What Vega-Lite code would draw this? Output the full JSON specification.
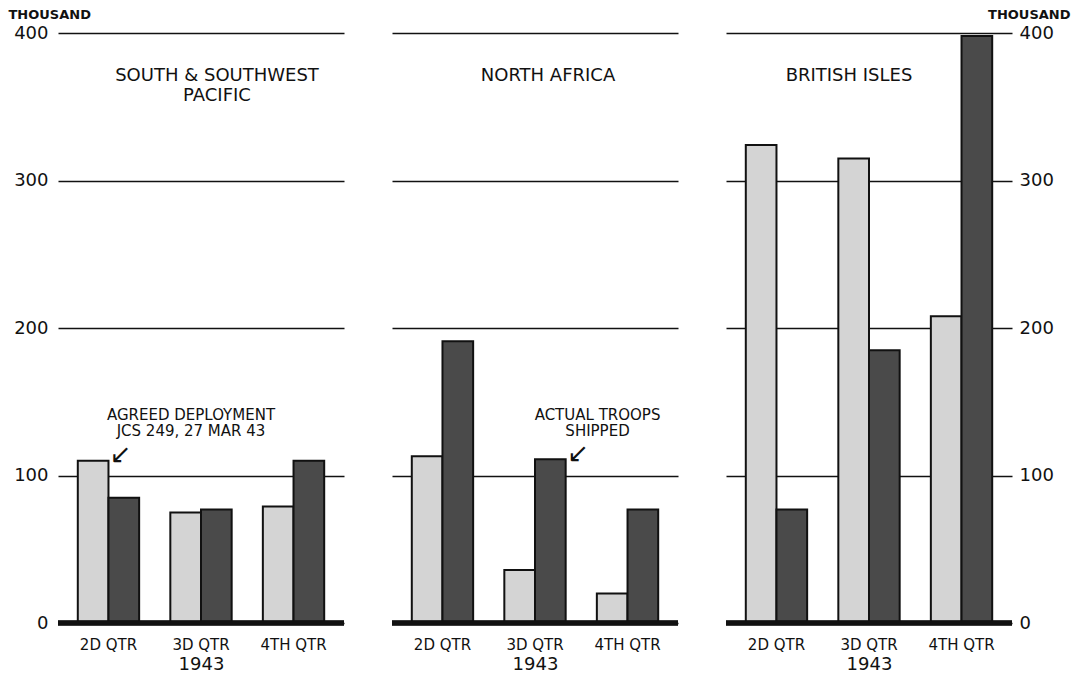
{
  "$schema": "https://vega.github.io/schema/vega-lite/v6.json",
  "background": "white",
  "padding": {"left": 8, "top": 8, "right": 5, "bottom": 3},
  "config": {
    "font": "DejaVu Sans",
    "view": {"stroke": null},
    "concat": {"spacing": 42},
    "axisX": {"domain": false, "ticks": false, "grid": false, "labelAngle": 0, "labelFontSize": 15, "labelPadding": 14, "labelBaseline": "top", "labelColor": "#111", "titleFontSize": 18, "titleFontWeight": "normal", "titlePadding": 3, "titleColor": "#111"},
    "axisY": {"domain": false, "ticks": false, "grid": true, "gridColor": "#111", "gridWidth": 1.6, "gridOpacity": 1, "labelFontSize": 18, "labelColor": "#111", "titleColor": "#111"}
  },
  "datasets": {
    "troops": [
      {"area": "South & Southwest Pacific", "quarter": "2D QTR", "series": "Agreed deployment", "troops": 110},
      {"area": "South & Southwest Pacific", "quarter": "2D QTR", "series": "Actual troops shipped", "troops": 85},
      {"area": "South & Southwest Pacific", "quarter": "3D QTR", "series": "Agreed deployment", "troops": 75},
      {"area": "South & Southwest Pacific", "quarter": "3D QTR", "series": "Actual troops shipped", "troops": 77},
      {"area": "South & Southwest Pacific", "quarter": "4TH QTR", "series": "Agreed deployment", "troops": 79},
      {"area": "South & Southwest Pacific", "quarter": "4TH QTR", "series": "Actual troops shipped", "troops": 110},
      {"area": "North Africa", "quarter": "2D QTR", "series": "Agreed deployment", "troops": 113},
      {"area": "North Africa", "quarter": "2D QTR", "series": "Actual troops shipped", "troops": 191},
      {"area": "North Africa", "quarter": "3D QTR", "series": "Agreed deployment", "troops": 36},
      {"area": "North Africa", "quarter": "3D QTR", "series": "Actual troops shipped", "troops": 111},
      {"area": "North Africa", "quarter": "4TH QTR", "series": "Agreed deployment", "troops": 20},
      {"area": "North Africa", "quarter": "4TH QTR", "series": "Actual troops shipped", "troops": 77},
      {"area": "British Isles", "quarter": "2D QTR", "series": "Agreed deployment", "troops": 324},
      {"area": "British Isles", "quarter": "2D QTR", "series": "Actual troops shipped", "troops": 77},
      {"area": "British Isles", "quarter": "3D QTR", "series": "Agreed deployment", "troops": 315},
      {"area": "British Isles", "quarter": "3D QTR", "series": "Actual troops shipped", "troops": 185},
      {"area": "British Isles", "quarter": "4TH QTR", "series": "Agreed deployment", "troops": 208},
      {"area": "British Isles", "quarter": "4TH QTR", "series": "Actual troops shipped", "troops": 398}
    ],
    "labels": [
      {"area": "South & Southwest Pacific", "kind": "title", "text": "SOUTH & SOUTHWEST\nPACIFIC"},
      {"area": "North Africa", "kind": "title", "text": "NORTH AFRICA"},
      {"area": "British Isles", "kind": "title", "text": "BRITISH ISLES"},
      {"area": "South & Southwest Pacific", "kind": "note", "text": "AGREED DEPLOYMENT\nJCS 249, 27 MAR 43"},
      {"area": "North Africa", "kind": "note", "text": "ACTUAL TROOPS\nSHIPPED"},
      {"area": "South & Southwest Pacific", "kind": "arrow", "text": "↙"},
      {"area": "North Africa", "kind": "arrow", "text": "↙"}
    ]
  },
  "hconcat": [
    {
      "width": 286, "height": 590,
      "layer": [
        {
          "data": {"name": "troops"},
          "transform": [{"filter": "datum.area === 'South & Southwest Pacific'"}],
          "mark": {"type": "bar", "stroke": "#111", "strokeWidth": 2},
          "encoding": {
            "x": {"field": "quarter", "type": "nominal", "sort": ["2D QTR", "3D QTR", "4TH QTR"], "scale": {"paddingInner": 0.337, "paddingOuter": 0.214}, "axis": {"title": "1943"}},
            "xOffset": {"field": "series", "type": "nominal", "sort": ["Agreed deployment", "Actual troops shipped"], "scale": {"paddingInner": 0, "paddingOuter": 0}},
            "y": {"field": "troops", "type": "quantitative", "scale": {"domain": [0, 400]}, "axis": {"orient": "left", "values": [0, 100, 200, 300, 400], "labelPadding": 10, "title": "THOUSAND", "titleAngle": 0, "titleFontSize": 13, "titleFontWeight": "bold", "titleAlign": "left", "titleBaseline": "middle", "titleX": -50, "titleY": -19}},
            "fill": {"field": "series", "type": "nominal", "scale": {"domain": ["Agreed deployment", "Actual troops shipped"], "range": ["#d4d4d4", "#4a4a4a"]}, "legend": null}
          }
        },
        {
          "data": {"name": "troops"},
          "transform": [{"filter": "datum.area === 'South & Southwest Pacific'"}],
          "mark": {"type": "rule", "color": "#111", "strokeWidth": 4.5},
          "encoding": {"y": {"datum": 0}}
        },
        {
          "data": {"name": "labels"},
          "transform": [{"filter": "datum.area === 'South & Southwest Pacific' && datum.kind === 'title'"}],
          "mark": {"type": "text", "lineBreak": "\n", "baseline": "top", "fontSize": 18, "lineHeight": 20, "dx": 16, "color": "#111"},
          "encoding": {"x": {"datum": "3D QTR"}, "y": {"datum": 377}, "text": {"field": "text"}}
        },
        {
          "data": {"name": "labels"},
          "transform": [{"filter": "datum.area === 'South & Southwest Pacific' && datum.kind === 'note'"}],
          "mark": {"type": "text", "lineBreak": "\n", "baseline": "top", "fontSize": 15, "lineHeight": 16, "dx": -10, "color": "#111"},
          "encoding": {"x": {"datum": "3D QTR"}, "y": {"datum": 146}, "text": {"field": "text"}}
        },
        {
          "data": {"name": "labels"},
          "transform": [{"filter": "datum.area === 'South & Southwest Pacific' && datum.kind === 'arrow'"}],
          "mark": {"type": "text", "baseline": "middle", "fontSize": 26, "dx": 12, "color": "#111"},
          "encoding": {"x": {"datum": "2D QTR"}, "y": {"datum": 114}, "text": {"field": "text"}}
        }
      ]
    },
    {
      "width": 286, "height": 590,
      "layer": [
        {
          "data": {"name": "troops"},
          "transform": [{"filter": "datum.area === 'North Africa'"}],
          "mark": {"type": "bar", "stroke": "#111", "strokeWidth": 2},
          "encoding": {
            "x": {"field": "quarter", "type": "nominal", "sort": ["2D QTR", "3D QTR", "4TH QTR"], "scale": {"paddingInner": 0.337, "paddingOuter": 0.214}, "axis": {"title": "1943"}},
            "xOffset": {"field": "series", "type": "nominal", "sort": ["Agreed deployment", "Actual troops shipped"], "scale": {"paddingInner": 0, "paddingOuter": 0}},
            "y": {"field": "troops", "type": "quantitative", "scale": {"domain": [0, 400]}, "axis": {"values": [0, 100, 200, 300, 400], "labels": false, "title": null}},
            "fill": {"field": "series", "type": "nominal", "scale": {"domain": ["Agreed deployment", "Actual troops shipped"], "range": ["#d4d4d4", "#4a4a4a"]}, "legend": null}
          }
        },
        {
          "data": {"name": "troops"},
          "transform": [{"filter": "datum.area === 'North Africa'"}],
          "mark": {"type": "rule", "color": "#111", "strokeWidth": 4.5},
          "encoding": {"y": {"datum": 0}}
        },
        {
          "data": {"name": "labels"},
          "transform": [{"filter": "datum.area === 'North Africa' && datum.kind === 'title'"}],
          "mark": {"type": "text", "lineBreak": "\n", "baseline": "top", "fontSize": 18, "lineHeight": 20, "dx": 13, "color": "#111"},
          "encoding": {"x": {"datum": "3D QTR"}, "y": {"datum": 377}, "text": {"field": "text"}}
        },
        {
          "data": {"name": "labels"},
          "transform": [{"filter": "datum.area === 'North Africa' && datum.kind === 'note'"}],
          "mark": {"type": "text", "lineBreak": "\n", "baseline": "top", "fontSize": 15, "lineHeight": 16, "dx": -30, "color": "#111"},
          "encoding": {"x": {"datum": "4TH QTR"}, "y": {"datum": 146}, "text": {"field": "text"}}
        },
        {
          "data": {"name": "labels"},
          "transform": [{"filter": "datum.area === 'North Africa' && datum.kind === 'arrow'"}],
          "mark": {"type": "text", "baseline": "middle", "fontSize": 26, "dx": 43, "color": "#111"},
          "encoding": {"x": {"datum": "3D QTR"}, "y": {"datum": 114.5}, "text": {"field": "text"}}
        }
      ]
    },
    {
      "width": 286, "height": 590,
      "layer": [
        {
          "data": {"name": "troops"},
          "transform": [{"filter": "datum.area === 'British Isles'"}],
          "mark": {"type": "bar", "stroke": "#111", "strokeWidth": 2},
          "encoding": {
            "x": {"field": "quarter", "type": "nominal", "sort": ["2D QTR", "3D QTR", "4TH QTR"], "scale": {"paddingInner": 0.337, "paddingOuter": 0.214}, "axis": {"title": "1943"}},
            "xOffset": {"field": "series", "type": "nominal", "sort": ["Agreed deployment", "Actual troops shipped"], "scale": {"paddingInner": 0, "paddingOuter": 0}},
            "y": {"field": "troops", "type": "quantitative", "scale": {"domain": [0, 400]}, "axis": {"orient": "right", "values": [0, 100, 200, 300, 400], "labelPadding": 7, "title": "THOUSAND", "titleAngle": 0, "titleFontSize": 13, "titleFontWeight": "bold", "titleAlign": "right", "titleBaseline": "middle", "titleX": 58, "titleY": -19}},
            "fill": {"field": "series", "type": "nominal", "scale": {"domain": ["Agreed deployment", "Actual troops shipped"], "range": ["#d4d4d4", "#4a4a4a"]}, "legend": null}
          }
        },
        {
          "data": {"name": "troops"},
          "transform": [{"filter": "datum.area === 'British Isles'"}],
          "mark": {"type": "rule", "color": "#111", "strokeWidth": 4.5},
          "encoding": {"y": {"datum": 0}}
        },
        {
          "data": {"name": "labels"},
          "transform": [{"filter": "datum.area === 'British Isles' && datum.kind === 'title'"}],
          "mark": {"type": "text", "lineBreak": "\n", "baseline": "top", "fontSize": 18, "lineHeight": 20, "dx": -20, "color": "#111"},
          "encoding": {"x": {"datum": "3D QTR"}, "y": {"datum": 377}, "text": {"field": "text"}}
        }
      ]
    }
  ]
}
